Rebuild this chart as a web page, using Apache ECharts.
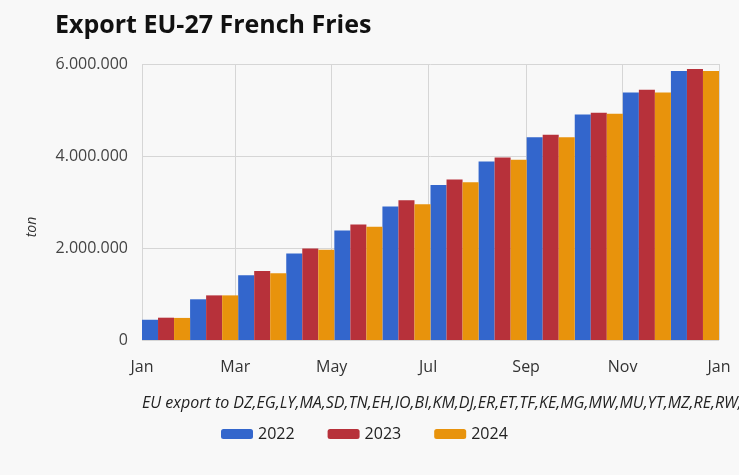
<!DOCTYPE html>
<html>
<head>
<meta charset="utf-8">
<script src="https://cdn.jsdelivr.net/npm/echarts@6/dist/echarts.min.js"></script>
<style>
html,body{margin:0;padding:0;background:#f8f8f8;}
#c{width:739px;height:475px;}
</style>
</head>
<body>
<div id="c"></div>
<script>
const title = "Export EU-27 French Fries";
const yAxisName = "ton";
const xAxisName = "EU export to DZ,EG,LY,MA,SD,TN,EH,IO,BI,KM,DJ,ER,ET,TF,KE,MG,MW,MU,YT,MZ,RE,RW,";
const monthNames = ["Jan","Feb","Mar","Apr","May","Jun","Jul","Aug","Sep","Oct","Nov","Dec"];
const seriesNames = ["2022","2023","2024"];
const values2022 = [440000, 885000, 1410000, 1880000, 2380000, 2900000, 3370000, 3880000, 4410000, 4900000, 5380000, 5850000];
const values2023 = [485000, 970000, 1500000, 1990000, 2510000, 3040000, 3490000, 3970000, 4460000, 4940000, 5440000, 5890000];
const values2024 = [480000, 970000, 1450000, 1960000, 2460000, 2950000, 3430000, 3920000, 4410000, 4920000, 5380000, 5850000];
const yTicks = [0, 2000000, 4000000, 6000000];
const colors = ["#3366cc", "#b7313a", "#e8930c"];

const baseYear = 2022;
function fmtNum(v) {
  return String(Math.round(v)).replace(/\B(?=(\d{3})+(?!\d))/g, ".");
}

const chart = echarts.init(document.getElementById('c'), null, {renderer: 'canvas'});
const font = "'Open Sans', 'Noto Sans', sans-serif";
const allVals = [values2022, values2023, values2024];
chart.setOption({
  backgroundColor: '#f8f8f8',
  animation: false,
  color: colors,
  title: {
    text: title,
    left: 50, top: 8,
    textStyle: {fontFamily: font, fontSize: 25, fontWeight: 'bold', color: '#111'}
  },
  legend: {
    top: 421, left: 216,
    icon: 'roundRect',
    itemWidth: 32, itemHeight: 10, itemGap: 33,
    textStyle: {fontFamily: font, fontSize: 16, color: '#222'},
    data: seriesNames
  },
  grid: {left: 142, right: 20, top: 64, bottom: 135, containLabel: false, outerBoundsMode: 'none'},
  xAxis: [{
    type: 'category',
    position: 'top',
    data: monthNames,
    boundaryGap: true,
    axisLine: {show: false},
    axisTick: {show: false},
    axisLabel: {show: false},
    splitLine: {show: false}
  }, {
    type: 'time',
    position: 'bottom',
    min: new Date(baseYear, 0, 1).getTime(),
    max: new Date(baseYear + 1, 0, 1).getTime(),
    splitNumber: 6,
    name: xAxisName,
    nameLocation: 'start',
    nameGap: 0,
    nameTextStyle: {fontFamily: font, fontSize: 16, fontStyle: 'italic', color: '#222', align: 'left', verticalAlign: 'top', padding: [55, 0, 0, 0]},
    axisLine: {show: false},
    axisTick: {show: false},
    splitLine: {show: true, lineStyle: {color: '#d6d6d6', width: 1}},
    axisLabel: {
      fontFamily: font, fontSize: 16, color: '#333', margin: 19,
      showMinLabel: true, showMaxLabel: true, hideOverlap: false,
      formatter: function (v) { return monthNames[new Date(v).getMonth()]; }
    }
  }],
  yAxis: {
    type: 'value',
    min: yTicks[0], max: yTicks[yTicks.length - 1], interval: yTicks[1] - yTicks[0],
    name: yAxisName,
    nameLocation: 'middle',
    nameGap: 103,
    nameTextStyle: {fontFamily: font, fontSize: 14, fontStyle: 'italic', color: '#333', padding: [0, 50, 0, 0]},
    axisLine: {show: false},
    axisTick: {show: false},
    splitLine: {lineStyle: {color: '#d6d6d6', width: 1}},
    axisLabel: {fontFamily: font, fontSize: 16, color: '#444', margin: 14, formatter: fmtNum}
  },
  series: seriesNames.map((n, i) => ({
    name: n,
    type: 'bar',
    xAxisIndex: 0,
    data: allVals[i],
    barGap: '0%',
    barCategoryGap: '0%',
    itemStyle: {color: colors[i]}
  }))
});
</script>
</body>
</html>
